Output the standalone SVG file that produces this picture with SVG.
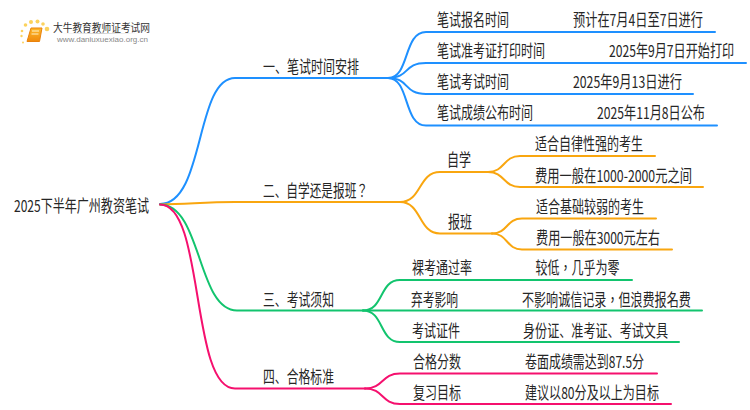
<svg xmlns="http://www.w3.org/2000/svg" width="750" height="410" viewBox="0 0 750 410">
<style>
text{font-family:"Noto Sans CJK SC","Noto Sans",sans-serif;font-size:16.5px;fill:#262626}
text.tc{font-family:"Noto Sans CJK TC","Noto Sans",sans-serif}
text.jp{font-family:"Noto Sans CJK JP","Noto Sans",sans-serif}
.c{fill:none;stroke-width:2;stroke-linecap:round}
.b{stroke:#1e90ff}.o{stroke:#f9a60f}.g{stroke:#12c46e}.p{stroke:#f5106e}
</style>
<defs><linearGradient id="bk" x1="0" y1="0" x2="0" y2="1"><stop offset="0" stop-color="#fdb92b"/><stop offset="1" stop-color="#f08a0c"/></linearGradient>
<linearGradient id="rule" x1="0" x2="1" y1="0" y2="0"><stop offset="0" stop-color="#ddd" stop-opacity="0"/><stop offset=".5" stop-color="#ccc"/><stop offset="1" stop-color="#ddd" stop-opacity="0"/></linearGradient></defs>
<rect width="750" height="410" fill="#fff"/>
<g id="logo">
<g fill="#fbd25e"><circle cx="47" cy="29" r="2.3"/><circle cx="31" cy="22" r="2"/><circle cx="37.500" cy="21.500" r="2"/><circle cx="25.500" cy="25" r="1.800"/><circle cx="22" cy="31" r="1.300"/><circle cx="21.500" cy="36" r="1.200"/><circle cx="23" cy="42.500" r="1"/><circle cx="43" cy="24" r="1.800"/></g>
<path d="M31 28h11l-2.500 13.500h-12.500z" fill="url(#bk)" stroke="#e9820c" stroke-width="1" stroke-linejoin="round"/>
<path d="M32 31h7M31.500 34h7" stroke="#fff2c8" stroke-width="1"/>
<text x="53" y="31.500" textLength="97" lengthAdjust="spacingAndGlyphs" style="font-size:11.5px;fill:#333">大牛教育教师证考试网</text>
<rect x="60" y="33" width="80" height="1" fill="url(#rule)"/>
<text x="57" y="42" textLength="91" lengthAdjust="spacingAndGlyphs" style="font-size:7px;fill:#888;font-family:'Liberation Sans',sans-serif">www.daniuxuexiao.org.cn</text>
</g>
<g id="connectors">
<path class="c b" d="M160 204C205 204 195 78 235 78H388"/>
<path class="c b" d="M388 78C410 78 403 32 426 32H715"/>
<path class="c b" d="M388 78C410 78 403 63 426 63H746"/>
<path class="c b" d="M388 78C410 78 403 94 426 94H693"/>
<path class="c b" d="M388 78C410 78 403 125.500 426 125.500H717"/>
<path class="c o" d="M160 204.500C190 204 205 202 235 202H400"/>
<path class="c o" d="M400 202C422 202 418 172 440 172H488"/>
<path class="c o" d="M400 202C422 202 418 233.500 440 233.500H492"/>
<path class="c o" d="M488 172C505 172 503 156 520 156H655"/>
<path class="c o" d="M488 172C505 172 503 187 520 187H703"/>
<path class="c o" d="M492 233.500C508 233.500 506 218.500 522 218.500H656"/>
<path class="c o" d="M492 233.500C508 233.500 506 249.500 522 249.500H672"/>
<path class="c g" d="M160 204.500C202 204.500 197 310.500 237 310.500H363"/>
<path class="c g" d="M363 310.500C384 310.500 379 280 400 280H632"/>
<path class="c g" d="M363 310.500H702"/>
<path class="c g" d="M363 310.500C384 310.500 379 342 400 342H679"/>
<path class="c p" d="M160 204.500C205 204.500 190 388.500 235 388.500H365"/>
<path class="c p" d="M365 388.500C384 388.500 381 373.500 400 373.500H657"/>
<path class="c p" d="M365 388.500C384 388.500 381 404 400 404H671"/>
</g>
<g id="root"><text x="14" y="211.500" textLength="135" lengthAdjust="spacingAndGlyphs">2025下半年广州教资笔试</text></g>
<g id="n1"><text x="263" y="72.500" textLength="96" lengthAdjust="spacingAndGlyphs">一、笔试时间安排</text></g>
<g id="n1-1"><text x="437" y="25.500" textLength="72" lengthAdjust="spacingAndGlyphs">笔试报名时间</text><text x="573" y="25.500" textLength="130" lengthAdjust="spacingAndGlyphs">预计在7月4日至7日进行</text></g>
<g id="n1-2"><text x="437" y="56.500" textLength="108" lengthAdjust="spacingAndGlyphs">笔试准考证打印时间</text><text transform="translate(609 56.500) scale(.735 1)">2025年9月7日开始打印</text></g>
<g id="n1-3"><text x="437" y="87.500" textLength="72" lengthAdjust="spacingAndGlyphs">笔试考试时间</text><text x="573" y="87.500" textLength="109" lengthAdjust="spacingAndGlyphs">2025年9月13日进行</text></g>
<g id="n1-4"><text x="437" y="118.500" textLength="96" lengthAdjust="spacingAndGlyphs">笔试成绩公布时间</text><text x="597" y="118.500" textLength="108" lengthAdjust="spacingAndGlyphs">2025年11月8日公布</text></g>
<g id="n2"><text class="jp" x="263" y="196.500" textLength="105" lengthAdjust="spacingAndGlyphs">二、自学还是报班？</text></g>
<g id="n2-1"><text x="447" y="165.500" textLength="24" lengthAdjust="spacingAndGlyphs">自学</text></g>
<g id="n2-1-1"><text x="535" y="149.500" textLength="108" lengthAdjust="spacingAndGlyphs">适合自律性强的考生</text></g>
<g id="n2-1-2"><text x="535" y="181.500" textLength="157" lengthAdjust="spacingAndGlyphs">费用一般在1000-2000元之间</text></g>
<g id="n2-2"><text x="448" y="227.500" textLength="24" lengthAdjust="spacingAndGlyphs">报班</text></g>
<g id="n2-2-1"><text x="536" y="212.500" textLength="108" lengthAdjust="spacingAndGlyphs">适合基础较弱的考生</text></g>
<g id="n2-2-2"><text x="536" y="243.500" textLength="124" lengthAdjust="spacingAndGlyphs">费用一般在3000元左右</text></g>
<g id="n3"><text x="263" y="305.500" textLength="71" lengthAdjust="spacingAndGlyphs">三、考试须知</text></g>
<g id="n3-1"><text x="412" y="273.500" textLength="60" lengthAdjust="spacingAndGlyphs">裸考通过率</text><text class="tc" x="535.500" y="273.500" textLength="84" lengthAdjust="spacingAndGlyphs">较低，几乎为零</text></g>
<g id="n3-2"><text x="411" y="305.500" textLength="47" lengthAdjust="spacingAndGlyphs">弃考影响</text><text class="tc" transform="translate(522 305.500) scale(.7316 1)">不影响诚信记录，但浪费报名费</text></g>
<g id="n3-3"><text x="412" y="336.500" textLength="48" lengthAdjust="spacingAndGlyphs">考试证件</text><text x="523" y="336.500" textLength="145" lengthAdjust="spacingAndGlyphs">身份证、准考证、考试文具</text></g>
<g id="n4"><text x="263" y="382.500" textLength="71" lengthAdjust="spacingAndGlyphs">四、合格标准</text></g>
<g id="n4-1"><text x="413" y="367.500" textLength="48" lengthAdjust="spacingAndGlyphs">合格分数</text><text x="525" y="367.500" textLength="119" lengthAdjust="spacingAndGlyphs">卷面成绩需达到87.5分</text></g>
<g id="n4-2"><text x="413" y="398.500" textLength="48" lengthAdjust="spacingAndGlyphs">复习目标</text><text x="525" y="398.500" textLength="134" lengthAdjust="spacingAndGlyphs">建议以80分及以上为目标</text></g>
</svg>
